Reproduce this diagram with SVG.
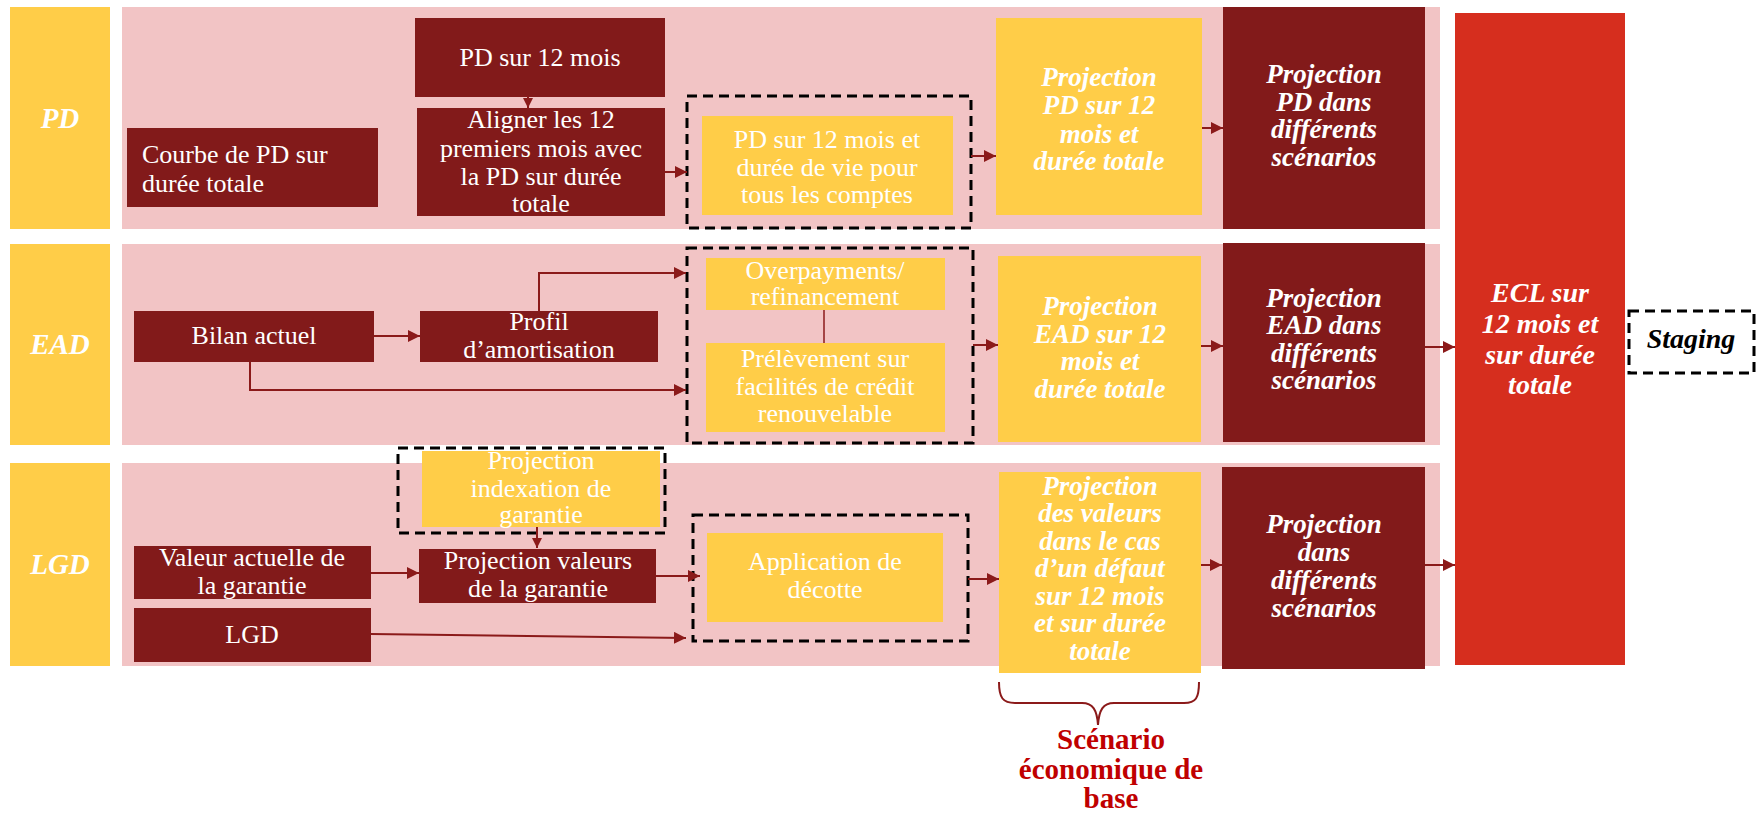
<svg xmlns="http://www.w3.org/2000/svg" width="1758" height="815" viewBox="0 0 1758 815">
<style>
.band{fill:#F2C4C5}
.yl{fill:#FFCD48}
.dk{fill:#821A1A}
.t{font-family:"Liberation Serif","Times New Roman",serif;font-size:26px;fill:#fff;text-anchor:middle}
.bi{font-weight:bold;font-style:italic;font-size:27px}
.ecl{font-size:28px}
.cap{fill:#C00000;font-weight:bold;font-size:29px}
.dash{fill:none;stroke:#000;stroke-width:3;stroke-dasharray:10 6}
.c{stroke:#8B1A1A;stroke-width:2;fill:none;marker-end:url(#ah)}
.cs{stroke:#8B1A1A;stroke-width:2;fill:none;marker-end:url(#ahs)}
.ln{stroke:#8B1A1A;stroke-width:1.5;fill:none}
</style>
<defs>
<marker id="ah" markerUnits="userSpaceOnUse" markerWidth="12" markerHeight="12" refX="12" refY="6" orient="auto"><path d="M0,0 L12,6 L0,12 z" fill="#8B1A1A"/></marker>
<marker id="ahs" markerUnits="userSpaceOnUse" markerWidth="10" markerHeight="10" refX="10" refY="5" orient="auto"><path d="M0,0 L10,5 L0,10 z" fill="#8B1A1A"/></marker>
</defs>
<rect width="1758" height="815" fill="#fff"/>

<g id="bands">
<rect class="band" x="122" y="7" width="1318" height="222"/>
<rect class="band" x="122" y="244" width="1318" height="201"/>
<rect class="band" x="122" y="463" width="1318" height="203"/>
</g>

<g id="label-pd"><rect class="yl" x="10" y="7" width="100" height="222"/><text class="t bi" x="60" y="128" style="font-size:29px">PD</text></g>
<g id="label-ead"><rect class="yl" x="10" y="244" width="100" height="201"/><text class="t bi" x="60" y="354" style="font-size:29px">EAD</text></g>
<g id="label-lgd"><rect class="yl" x="10" y="463" width="100" height="203"/><text class="t bi" x="60" y="574" style="font-size:29px">LGD</text></g>

<g id="n-pd12"><rect class="dk" x="415" y="18" width="250" height="79"/><text class="t" x="540" y="66">PD sur 12 mois</text></g>
<g id="n-aligner"><rect class="dk" x="417" y="108" width="248" height="108"/>
<text class="t" x="541" y="128">Aligner les 12</text><text class="t" x="541" y="157">premiers mois avec</text><text class="t" x="541" y="185">la PD sur durée</text><text class="t" x="541" y="212">totale</text></g>
<g id="n-courbe"><rect class="dk" x="127" y="128" width="251" height="79"/>
<text class="t" x="142" y="163" style="text-anchor:start">Courbe de PD sur</text><text class="t" x="142" y="192" style="text-anchor:start">durée totale</text></g>
<g id="n-pdlife"><rect class="dash" x="687" y="96" width="284" height="132"/><rect class="yl" x="702" y="116" width="251" height="99"/>
<text class="t" x="827" y="148">PD sur 12 mois et</text><text class="t" x="827" y="176">durée de vie pour</text><text class="t" x="827" y="203">tous les comptes</text></g>
<g id="n-projpd"><rect class="yl" x="996" y="18" width="206" height="197"/>
<text class="t bi" x="1099" y="86">Projection</text><text class="t bi" x="1099" y="114">PD sur 12</text><text class="t bi" x="1099" y="143">mois et</text><text class="t bi" x="1099" y="170">durée totale</text></g>
<g id="n-pdscen"><rect class="dk" x="1223" y="7" width="202" height="222"/>
<text class="t bi" x="1324" y="83">Projection</text><text class="t bi" x="1324" y="111">PD dans</text><text class="t bi" x="1324" y="138">différents</text><text class="t bi" x="1324" y="166">scénarios</text></g>

<g id="n-bilan"><rect class="dk" x="134" y="311" width="240" height="51"/><text class="t" x="254" y="344">Bilan actuel</text></g>
<g id="n-profil"><rect class="dk" x="420" y="311" width="238" height="51"/><text class="t" x="539" y="330">Profil</text><text class="t" x="539" y="358">d’amortisation</text></g>
<g id="n-eadgroup"><rect class="dash" x="687" y="248" width="286" height="195"/></g>
<g id="n-overpay"><rect class="yl" x="706" y="258" width="239" height="52"/><text class="t" x="825" y="279">Overpayments/</text><text class="t" x="825" y="305">refinancement</text></g>
<g id="n-prelev"><rect class="yl" x="706" y="343" width="239" height="89"/><text class="t" x="825" y="367">Prélèvement sur</text><text class="t" x="825" y="395">facilités de crédit</text><text class="t" x="825" y="422">renouvelable</text></g>
<g id="n-projead"><rect class="yl" x="998" y="256" width="203" height="186"/>
<text class="t bi" x="1100" y="315">Projection</text><text class="t bi" x="1100" y="343">EAD sur 12</text><text class="t bi" x="1100" y="370">mois et</text><text class="t bi" x="1100" y="398">durée totale</text></g>
<g id="n-eadscen"><rect class="dk" x="1223" y="243" width="202" height="199"/>
<text class="t bi" x="1324" y="307">Projection</text><text class="t bi" x="1324" y="334">EAD dans</text><text class="t bi" x="1324" y="362">différents</text><text class="t bi" x="1324" y="389">scénarios</text></g>

<g id="n-index"><rect class="dash" x="398" y="448" width="267" height="85"/><rect class="yl" x="422" y="451" width="238" height="76"/>
<text class="t" x="541" y="469">Projection</text><text class="t" x="541" y="497">indexation de</text><text class="t" x="541" y="523">garantie</text></g>
<g id="n-valeur"><rect class="dk" x="134" y="546" width="237" height="53"/><text class="t" x="252" y="566">Valeur actuelle de</text><text class="t" x="252" y="594">la garantie</text></g>
<g id="n-projval"><rect class="dk" x="419" y="549" width="237" height="54"/><text class="t" x="538" y="569">Projection valeurs</text><text class="t" x="538" y="597">de la garantie</text></g>
<g id="n-lgd"><rect class="dk" x="134" y="608" width="237" height="54"/><text class="t" x="252" y="643">LGD</text></g>
<g id="n-decotte"><rect class="dash" x="693" y="515" width="275" height="126"/><rect class="yl" x="707" y="533" width="236" height="89"/>
<text class="t" x="825" y="570">Application de</text><text class="t" x="825" y="598">décotte</text></g>
<g id="n-projlgd"><rect class="yl" x="999" y="472" width="202" height="201"/>
<text class="t bi" x="1100" y="495">Projection</text><text class="t bi" x="1100" y="522">des valeurs</text><text class="t bi" x="1100" y="550">dans le cas</text><text class="t bi" x="1100" y="577">d’un défaut</text><text class="t bi" x="1100" y="605">sur 12 mois</text><text class="t bi" x="1100" y="632">et sur durée</text><text class="t bi" x="1100" y="660">totale</text></g>
<g id="n-lgdscen"><rect class="dk" x="1222" y="467" width="203" height="202"/>
<text class="t bi" x="1324" y="533">Projection</text><text class="t bi" x="1324" y="561">dans</text><text class="t bi" x="1324" y="589">différents</text><text class="t bi" x="1324" y="617">scénarios</text></g>

<g id="n-ecl"><rect x="1455" y="13" width="170" height="652" fill="#D62E1E"/>
<text class="t bi ecl" x="1540" y="302">ECL sur</text><text class="t bi ecl" x="1540" y="333">12 mois et</text><text class="t bi ecl" x="1540" y="364">sur durée</text><text class="t bi ecl" x="1540" y="394">totale</text></g>
<g id="n-staging"><rect class="dash" x="1629" y="311" width="125" height="62"/><text class="t bi" x="1691" y="348" style="fill:#000;font-size:28px">Staging</text></g>

<g id="connectors">
<path class="cs" d="M528,96 V108"/>
<path class="c" d="M665,172 H687"/>
<path class="c" d="M971,156 H996"/>
<path class="c" d="M1202,128 H1223"/>
<path class="c" d="M374,336 H420"/>
<path class="c" d="M539,311 V273 H686"/>
<path class="c" d="M250,362 V390 H686"/>
<path class="ln" d="M824,310 V343"/>
<path class="c" d="M973,345 H998"/>
<path class="c" d="M1201,346 H1223"/>
<path class="c" d="M1425,347 H1455"/>
<path class="cs" d="M537,527 V548"/>
<path class="c" d="M371,573 H419"/>
<path class="c" d="M656,576 H700"/>
<path class="c" d="M371,634 L686,638"/>
<path class="c" d="M968,579 H999"/>
<path class="c" d="M1201,565 H1222"/>
<path class="c" d="M1425,565 H1455"/>
</g>

<g id="brace">
<path d="M999,682 C999,698 1003,703 1015,703 H1082 C1093,703 1097,710 1098,725 C1099,710 1103,703 1114,703 H1184 C1196,703 1199,698 1199,682" fill="none" stroke="#8B1A1A" stroke-width="2"/>
<text class="t cap" x="1111" y="749">Scénario</text>
<text class="t cap" x="1111" y="779">économique de</text>
<text class="t cap" x="1111" y="808">base</text>
</g>
</svg>
